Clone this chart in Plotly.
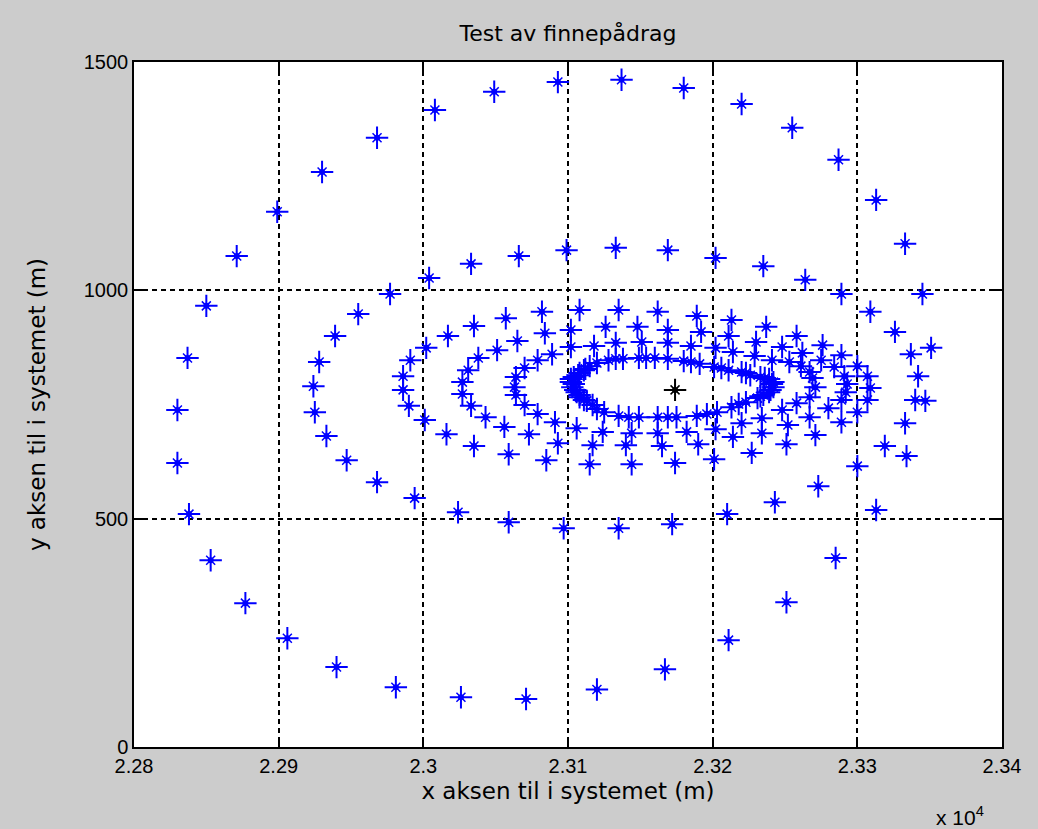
import plotly.graph_objects as go

# ---- data (metres) ----
loop1_x = [23345, 23333, 23313, 23287, 23255, 23220, 23180, 23137, 23093, 23049, 23008, 22968, 22930, 22899,
           22871, 22850, 22837, 22830, 22830, 22838, 22853, 22877, 22906, 22940, 22981, 23026, 23071, 23120,
           23167, 23211, 23251, 23285, 23313, 23334, 23347, 23351]
loop1_y = [992, 1102, 1198, 1286, 1356, 1408, 1443, 1461, 1456, 1435, 1395, 1334, 1259, 1172,
           1075, 966, 852, 738, 622, 510, 409, 315, 238, 175, 131, 109, 105, 126,
           170, 234, 317, 414, 519, 637, 758, 874]

loop2_x = [23326, 23337, 23342, 23340, 23333, 23319, 23300, 23273, 23243, 23210, 23172, 23135, 23097, 23059,
           23024, 22994, 22968, 22947, 22933, 22925, 22924, 22928, 22939, 22955, 22977, 23004, 23033, 23066,
           23099, 23133, 23169, 23202, 23235, 23264, 23289, 23309]
loop2_y = [909, 860, 812, 760, 709, 659, 615, 571, 536, 510, 488, 479, 479, 492,
           514, 545, 580, 628, 681, 733, 790, 843, 900, 948, 992, 1027, 1058, 1075,
           1088, 1093, 1088, 1071, 1053, 1023, 992, 953]

loop3_x = [23002, 23017, 23035, 23057, 23082, 23108, 23135, 23162, 23189, 23213, 23237, 23258, 23276, 23289,
           23300, 23307, 23309, 23307, 23300, 23289, 23271, 23251, 23227, 23201, 23174, 23144, 23115, 23085,
           23059, 23035, 23016, 23001, 22990, 22986, 22986, 22991]
loop3_y = [874, 900, 922, 939, 953, 957, 957, 953, 944, 935, 920, 900, 880, 858,
           834, 812, 786, 760, 733, 711, 683, 663, 644, 630, 622, 619, 619, 628,
           641, 659, 685, 716, 747, 782, 812, 847]

loop4_x = [23065, 23084, 23102, 23126, 23148, 23169, 23192, 23211, 23230, 23248, 23262, 23275, 23284, 23291,
           23293, 23292, 23289, 23280, 23267, 23252, 23234, 23214, 23190, 23165, 23140, 23117, 23093, 23073,
           23056, 23043, 23033, 23027, 23027, 23031, 23038, 23051]
loop4_y = [889, 906, 913, 920, 920, 913, 909, 900, 887, 876, 863, 847, 832, 812,
           795, 777, 760, 742, 722, 705, 687, 679, 663, 659, 661, 661, 665, 685,
           701, 722, 747, 773, 799, 825, 852, 869]

loop5_x = [23089, 23102, 23118, 23133, 23151, 23169, 23185, 23202, 23214, 23229, 23241, 23253, 23261, 23267,
           23269, 23271, 23267, 23258, 23248, 23234, 23220, 23202, 23182, 23162, 23144, 23124, 23106, 23091,
           23079, 23070, 23064, 23063, 23064, 23070, 23079]
loop5_y = [860, 876, 878, 885, 887, 885, 878, 874, 865, 856, 847, 843, 834, 821,
           808, 788, 766, 753, 738, 720, 709, 696, 690, 687, 687, 690, 698, 711,
           729, 749, 771, 788, 810, 830, 847]

loop6_x = [23102, 23104, 23108, 23111, 23115, 23120, 23128, 23138, 23149, 23160, 23169, 23180, 23191, 23201,
           23211, 23220, 23226, 23233, 23239, 23242, 23242, 23239, 23235, 23231, 23223, 23213, 23203, 23189,
           23175, 23162, 23149, 23135, 23125, 23117, 23111, 23108, 23106, 23103]
loop6_y = [799, 810, 819, 825, 834, 841, 847, 850, 852, 852, 850, 845, 839, 832,
           825, 821, 814, 810, 806, 799, 788, 777, 771, 764, 755, 744, 733, 725,
           722, 722, 722, 725, 733, 749, 760, 766, 777, 788]

loop7_x = [23102, 23104, 23105, 23108, 23113, 23107, 23112, 23133, 23154, 23185, 23206, 23223, 23236, 23241,
           23240, 23233, 23218, 23196, 23169, 23142, 23120]
loop7_y = [806, 795, 782, 771, 758, 814, 828, 850, 852, 843, 830, 819, 808, 795,
           782, 768, 751, 729, 722, 722, 740]

target_x = [23174]
target_y = [782]

x_tickvals = [22800, 22900, 23000, 23100, 23200, 23300, 23400]
x_ticktext = ["2.28", "2.29", "2.3", "2.31", "2.32", "2.33", "2.34"]
y_tickvals = [0, 500, 1000, 1500]
y_ticktext = ["0", "500", "1000", "1500"]

title_text = "Test av finnepådrag"
x_label = "x aksen til i systemet (m)"
y_label = "y aksen til i systemet (m)"
exponent_text = "x 10<sup>4</sup>"

# ---- build ----
all_x = loop1_x + loop2_x + loop3_x + loop4_x + loop5_x + loop6_x + loop7_x
all_y = loop1_y + loop2_y + loop3_y + loop4_y + loop5_y + loop6_y + loop7_y

fig = go.Figure()


def add_star(xs, ys, color):
    fig.add_trace(go.Scatter(x=xs, y=ys, mode="markers", hoverinfo="skip",
                             marker=dict(symbol="cross-thin-open", size=16, color=color,
                                         line=dict(color=color, width=2))))
    fig.add_trace(go.Scatter(x=xs, y=ys, mode="markers", hoverinfo="skip",
                             marker=dict(symbol="x-thin-open", size=9, color=color,
                                         line=dict(color=color, width=1.5))))
    fig.add_trace(go.Scatter(x=xs, y=ys, mode="markers", hoverinfo="skip",
                             marker=dict(symbol="circle", size=6, color=color,
                                         line=dict(width=0))))


add_star(all_x, all_y, "#0000ff")
add_star(target_x, target_y, "#000000")

tick_font = "Liberation Sans, Arial, sans-serif"
label_font = "DejaVu Sans, Verdana, sans-serif"

axis_common = dict(showline=True, linecolor="#000000", linewidth=1.5, mirror="ticks",
                   ticks="inside", ticklen=9, tickwidth=1.5, tickcolor="#000000",
                   showgrid=True, gridcolor="#000000", griddash="5px,4px", gridwidth=1.6,
                   zeroline=False, tickfont=dict(family=tick_font, size=20, color="#000000"))

fig.update_layout(
    width=1038, height=829,
    paper_bgcolor="#cccccc", plot_bgcolor="#ffffff",
    margin=dict(l=134, r=36, t=62, b=82, pad=0),
    showlegend=False,
    title=dict(text=title_text, x=(134 + 1002) / 2 / 1038, xanchor="center",
               y=1 - 33 / 829, yanchor="middle",
               font=dict(family=label_font, size=22, color="#000000")),
    xaxis=dict(range=[22800, 23400], tickvals=x_tickvals, ticktext=x_ticktext,
               title=dict(text=x_label, standoff=7,
                          font=dict(family=label_font, size=23, color="#000000")),
               **axis_common),
    yaxis=dict(range=[0, 1500], tickvals=y_tickvals, ticktext=y_ticktext,
               title=dict(text=y_label, standoff=32,
                          font=dict(family=label_font, size=23, color="#000000")),
               **axis_common),
)

fig.add_annotation(text=exponent_text, xref="paper", yref="paper", x=0.982, y=-0.1,
                   xanchor="right", yanchor="middle", showarrow=False,
                   font=dict(family=tick_font, size=21, color="#000000"))

fig.write_html("out.html", config={"displayModeBar": False},
               post_script="document.body.style.margin='0';document.body.style.padding='0';"
                           "document.body.style.overflow='hidden';"
                           "document.body.style.background='#cccccc';")
